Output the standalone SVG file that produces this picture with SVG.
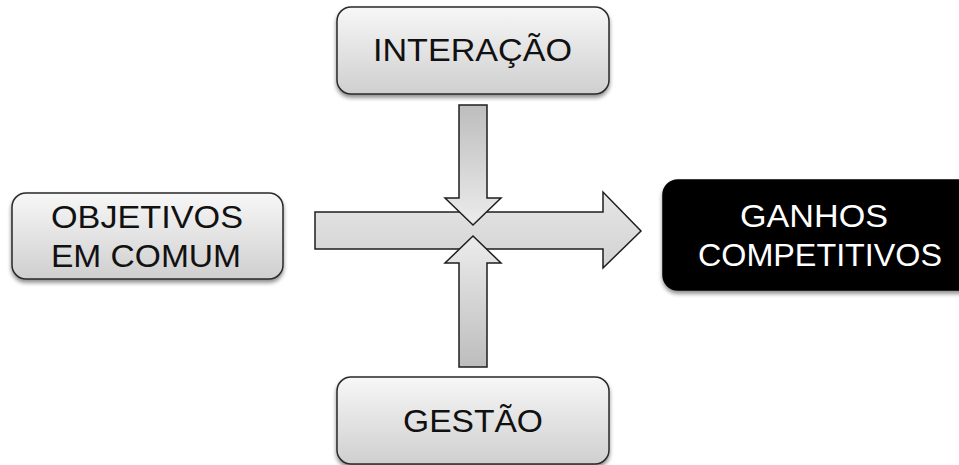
<svg xmlns="http://www.w3.org/2000/svg" width="959" height="465" viewBox="0 0 959 465">
<defs>
<linearGradient id="boxg" x1="0" y1="0" x2="0" y2="1">
<stop offset="0" stop-color="#f7f7f7"/>
<stop offset="1" stop-color="#cfcfcf"/>
</linearGradient>
<linearGradient id="hg" x1="0" y1="0" x2="0" y2="1">
<stop offset="0" stop-color="#e6e6e6"/>
<stop offset="1" stop-color="#d2d2d2"/>
</linearGradient>
<linearGradient id="dg" x1="0" y1="0" x2="0" y2="1">
<stop offset="0" stop-color="#bdbdbd"/>
<stop offset="1" stop-color="#ececec"/>
</linearGradient>
<linearGradient id="ug" x1="0" y1="1" x2="0" y2="0">
<stop offset="0" stop-color="#bdbdbd"/>
<stop offset="1" stop-color="#ececec"/>
</linearGradient>
<filter id="sh" x="-10%" y="-10%" width="120%" height="130%">
<feGaussianBlur in="SourceAlpha" stdDeviation="2"/>
<feOffset dx="0" dy="3" result="b"/>
<feComponentTransfer><feFuncA type="linear" slope="0.45"/></feComponentTransfer>
<feMerge><feMergeNode/><feMergeNode in="SourceGraphic"/></feMerge>
</filter>
</defs>
<style>
.box{fill:url(#boxg);stroke:#2a2a2a;stroke-width:1.5;filter:url(#sh)}
.dark{fill:#000;stroke:#000;stroke-width:1.5;filter:url(#sh)}
.arr{stroke:#1e1e1e;stroke-width:1.5;stroke-linejoin:miter}
.t{font-family:"Liberation Sans",Arial,sans-serif;font-size:31px;text-anchor:middle;fill:#111}
.w{fill:#fff}
</style>
<g id="connectors">
<path class="arr" fill="url(#hg)" d="M315,212 H603 V192 L641,231 L603,268 V249 H315 Z"/>
<path class="arr" fill="url(#dg)" d="M459,105 H487 V198 H501 L473,225 L445,198 H459 Z"/>
<path class="arr" fill="url(#ug)" d="M459,367 H487 V263 H501 L473,236 L445,263 H459 Z"/>
</g>
<g id="interacao">
<rect class="box" x="337" y="7" width="272" height="87" rx="14"/>
<text class="t" x="472.5" y="61" textLength="199" lengthAdjust="spacingAndGlyphs">INTERAÇÃO</text>
</g>
<g id="objetivos">
<rect class="box" x="12" y="193" width="271" height="86" rx="14"/>
<text class="t" x="147" y="228" textLength="192" lengthAdjust="spacingAndGlyphs">OBJETIVOS</text>
<text class="t" x="146" y="267" textLength="190" lengthAdjust="spacingAndGlyphs">EM COMUM</text>
</g>
<g id="ganhos">
<rect class="dark" x="663" y="180" width="315" height="110" rx="15"/>
<text class="t w" x="814" y="227" textLength="148" lengthAdjust="spacingAndGlyphs">GANHOS</text>
<text class="t w" x="820" y="266" textLength="244" lengthAdjust="spacingAndGlyphs">COMPETITIVOS</text>
</g>
<g id="gestao">
<rect class="box" x="337" y="377" width="272" height="87" rx="14"/>
<text class="t" x="473" y="432" textLength="140" lengthAdjust="spacingAndGlyphs">GESTÃO</text>
</g>
</svg>
